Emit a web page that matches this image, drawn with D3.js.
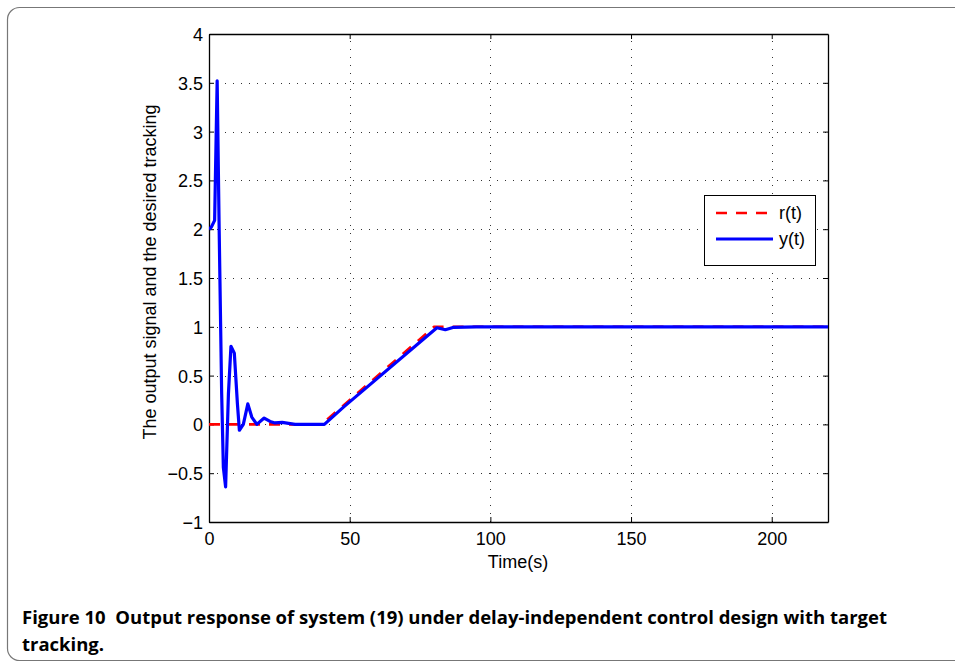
<!DOCTYPE html>
<html>
<head>
<meta charset="utf-8">
<script src="https://cdn.jsdelivr.net/npm/d3@7/dist/d3.min.js"></script>
<style>
  html, body { margin: 0; padding: 0; background: #fff; }
  svg { display: block; }
</style>
</head>
<body>
<svg id="chart" width="955" height="665"></svg>
<script>
// ---- data ----
const xTicks = [0, 50, 100, 150, 200];
const yTicks = [-1, -0.5, 0, 0.5, 1, 1.5, 2, 2.5, 3, 3.5, 4];
const yTickLabels = ["\u22121", "\u22120.5", "0", "0.5", "1", "1.5", "2", "2.5", "3", "3.5", "4"];

const rTime = [0, 40, 80, 220];
const rValue = [0, 0, 1, 1];

const yTime = [0, 0.8, 2.0, 2.9, 3.6, 4.5, 5.1, 5.9, 6.9, 7.8, 9.0, 10.1, 10.8, 12.2, 13.8, 15.2, 17.0, 19.6, 21.7, 23.5, 26.0, 30.6, 41.0, 47.8, 81.0, 84.0, 87.0, 95.0, 220];
const yValue = [2.0, 2.02, 2.09, 3.52, 2.02, 0.32, -0.44, -0.64, 0.31, 0.80, 0.73, 0.21, -0.06, 0.0, 0.21, 0.075, 0.0, 0.065, 0.03, 0.015, 0.02, 0.0, 0.0, 0.177, 0.99, 0.97, 0.995, 1.0, 1.0];

const legendLabels = ["r(t)", "y(t)"];
const xLabel = "Time(s)";
const yLabel = "The output signal and the desired tracking";
const captionLine1 = "Figure 10\u00a0\u00a0Output response of system (19) under delay-independent control design with target";
const captionLine2 = "tracking.";

// ---- layout ----
const svg = d3.select("#chart");
const L = 209, R = 828, T = 34, B = 522;
const x = d3.scaleLinear().domain([0, 220]).range([L, R]);
const y = d3.scaleLinear().domain([-1, 4]).range([B, T]);
const font = "'Liberation Sans', Arial, Helvetica, sans-serif";
const fs = 18;

// frame
svg.append("rect")
  .attr("x", 7.5).attr("y", 7.5)
  .attr("width", 1000).attr("height", 653)
  .attr("rx", 12).attr("ry", 12)
  .attr("fill", "none").attr("stroke", "#777").attr("stroke-width", 1.2);

// plot background
svg.append("rect").attr("x", L).attr("y", T).attr("width", R - L).attr("height", B - T).attr("fill", "#fff");

// grid
const grid = svg.append("g").attr("stroke", "#333").attr("stroke-width", 1).attr("stroke-dasharray", "1,7");
xTicks.filter(d => d > 0).forEach(d => {
  grid.append("line").attr("x1", Math.round(x(d)) + 0.5).attr("x2", Math.round(x(d)) + 0.5)
    .attr("y1", B).attr("y2", T);
});
yTicks.filter(d => d > -1 && d < 4).forEach(d => {
  grid.append("line").attr("y1", Math.round(y(d)) + 0.5).attr("y2", Math.round(y(d)) + 0.5)
    .attr("x1", L).attr("x2", R);
});

// axes with inward ticks
const axB = svg.append("g").attr("transform", `translate(0,${B})`)
  .call(d3.axisBottom(x).tickValues(xTicks).tickSizeInner(-5).tickSizeOuter(0).tickPadding(10).tickFormat(d3.format("d")));
const axL = svg.append("g").attr("transform", `translate(${L},0)`)
  .call(d3.axisLeft(y).tickValues(yTicks).tickSizeInner(-5).tickSizeOuter(0).tickPadding(6).tickFormat((d, i) => yTickLabels[i]));
const axT = svg.append("g").attr("transform", `translate(0,${T})`)
  .call(d3.axisTop(x).tickValues(xTicks).tickSizeInner(-5).tickSizeOuter(0).tickFormat(""));
const axR = svg.append("g").attr("transform", `translate(${R},0)`)
  .call(d3.axisRight(y).tickValues(yTicks).tickSizeInner(-5).tickSizeOuter(0).tickFormat(""));
[axB, axL, axT, axR].forEach(a => {
  a.select(".domain").attr("stroke", "#000").attr("stroke-width", 1.3);
  a.selectAll(".tick line").attr("stroke", "#000");
  a.selectAll("text").attr("font-family", font).attr("font-size", fs).attr("fill", "#000");
});
axB.selectAll("text").attr("dy", "0.71em");
axL.selectAll("text").attr("dy", "0.36em");

// lines
const rData = rTime.map((t, i) => [t, rValue[i]]);
const yData = yTime.map((t, i) => [t, yValue[i]]);
const line = d3.line().x(d => x(d[0])).y(d => y(d[1]));
svg.append("clipPath").attr("id", "clip").append("rect")
  .attr("x", L).attr("y", T).attr("width", R - L).attr("height", B - T);
const plot = svg.append("g").attr("clip-path", "url(#clip)");
plot.append("path").datum(rData).attr("d", line)
  .attr("fill", "none").attr("stroke", "#ff0000").attr("stroke-width", 2.6).attr("stroke-dasharray", "11,9");
plot.append("path").datum(yData).attr("d", line)
  .attr("fill", "none").attr("stroke", "#0000ff").attr("stroke-width", 3.2).attr("stroke-linejoin", "round");

// legend
const lg = svg.append("g");
lg.append("rect").attr("x", 704.5).attr("y", 195.5).attr("width", 111).attr("height", 70)
  .attr("fill", "#fff").attr("stroke", "#000").attr("stroke-width", 1);
const lgColors = ["#ff0000", "#0000ff"];
const lgDash = ["11,9", null];
const lgY = [213, 239];
legendLabels.forEach((lab, i) => {
  lg.append("line").attr("x1", 716).attr("x2", 773).attr("y1", lgY[i]).attr("y2", lgY[i])
    .attr("stroke", lgColors[i]).attr("stroke-width", i === 0 ? 2.6 : 3.2)
    .attr("stroke-dasharray", lgDash[i]);
  lg.append("text").attr("x", 779).attr("y", lgY[i]).attr("dy", "0.36em")
    .attr("font-family", font).attr("font-size", fs).text(lab);
});

// axis labels
svg.append("text").attr("x", 518).attr("y", 568).attr("text-anchor", "middle")
  .attr("font-family", font).attr("font-size", fs).text(xLabel);
svg.append("text").attr("transform", "translate(156,272) rotate(-90)").attr("text-anchor", "middle")
  .attr("font-family", font).attr("font-size", fs).text(yLabel);

// caption
const capFont = "'Open Sans', 'Noto Sans', sans-serif";
svg.append("text").attr("x", 22).attr("y", 624)
  .attr("font-family", capFont).attr("font-weight", 700).attr("font-size", 18)
  .attr("textLength", 865).attr("lengthAdjust", "spacingAndGlyphs").text(captionLine1);
svg.append("text").attr("x", 22).attr("y", 651)
  .attr("font-family", capFont).attr("font-weight", 700).attr("font-size", 18)
  .attr("textLength", 82).attr("lengthAdjust", "spacingAndGlyphs").text(captionLine2);
</script>
</body>
</html>
